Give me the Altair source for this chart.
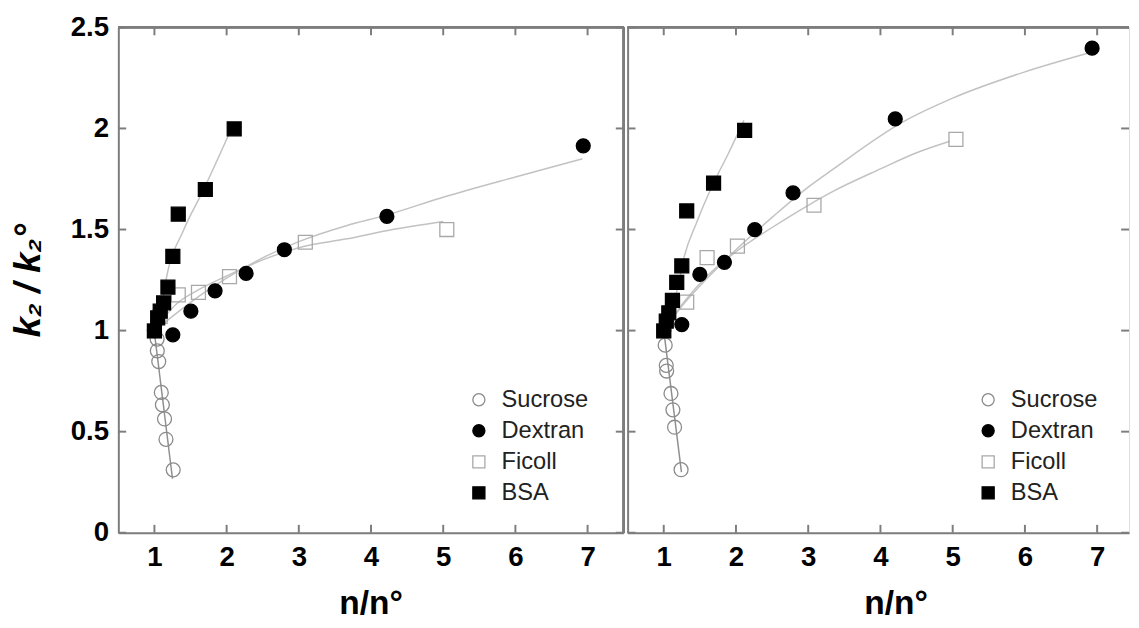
import altair as alt
import pandas as pd

SERIES = ["Sucrose", "Dextran", "Ficoll", "BSA"]
X_TICKS = [1, 2, 3, 4, 5, 6, 7]
Y_TICKS = [0, 0.5, 1, 1.5, 2, 2.5]

# ---- left panel: measured points ----
L_SUC_X = [1.0, 1.037, 1.04, 1.06, 1.095, 1.11, 1.14, 1.16, 1.26]
L_SUC_Y = [1.0, 0.958, 0.90, 0.847, 0.694, 0.633, 0.563, 0.462, 0.311]
L_DEX_X = [1.0, 1.255, 1.505, 1.84, 2.27, 2.80, 4.22, 6.94]
L_DEX_Y = [1.0, 0.979, 1.096, 1.197, 1.283, 1.40, 1.565, 1.914]
L_FIC_X = [1.0, 1.08, 1.33, 1.61, 2.04, 3.09, 5.05]
L_FIC_Y = [1.0, 1.07, 1.177, 1.189, 1.267, 1.437, 1.50]
L_BSA_X = [1.0, 1.045, 1.08, 1.127, 1.187, 1.255, 1.33, 1.705, 2.105]
L_BSA_Y = [0.998, 1.063, 1.096, 1.137, 1.215, 1.367, 1.576, 1.698, 1.998]

# ---- left panel: fitted curves ----
L_SUC_FX = [1.0, 1.25]
L_SUC_FY = [0.99, 0.267]
L_DEX_FX = [1.0, 1.25, 1.5, 2.0, 2.5, 3.0, 3.67, 4.2, 5.0, 6.0, 6.93]
L_DEX_FY = [1.0, 1.07, 1.14, 1.26, 1.36, 1.44, 1.52, 1.57, 1.66, 1.76, 1.85]
L_FIC_FX = [1.0, 1.3, 1.6, 2.0, 2.5, 3.0, 3.67, 4.3, 5.0]
L_FIC_FY = [1.0, 1.13, 1.20, 1.27, 1.35, 1.41, 1.454, 1.50, 1.54]
L_BSA_FX = [1.0, 1.1, 1.17, 1.4, 1.67, 2.08]
L_BSA_FY = [1.0, 1.12, 1.267, 1.494, 1.69, 2.01]

# ---- right panel: measured points ----
R_SUC_X = [1.0, 1.02, 1.035, 1.04, 1.10, 1.127, 1.15, 1.24]
R_SUC_Y = [1.0, 0.928, 0.828, 0.80, 0.689, 0.608, 0.522, 0.312]
R_DEX_X = [1.0, 1.25, 1.5, 1.84, 2.26, 2.79, 4.205, 6.93]
R_DEX_Y = [1.0, 1.03, 1.278, 1.338, 1.499, 1.681, 2.047, 2.397]
R_FIC_X = [1.0, 1.318, 1.60, 2.02, 3.08, 5.045]
R_FIC_Y = [1.0, 1.141, 1.361, 1.418, 1.62, 1.946]
R_BSA_X = [1.0, 1.035, 1.07, 1.12, 1.18, 1.25, 1.318, 1.69, 2.12]
R_BSA_Y = [0.998, 1.047, 1.088, 1.15, 1.239, 1.32, 1.592, 1.73, 1.99]

# ---- right panel: fitted curves ----
R_SUC_FX = [1.0, 1.245]
R_SUC_FY = [1.0, 0.30]
R_DEX_FX = [1.0, 1.25, 1.5, 2.0, 2.5, 3.0, 3.35, 4.3, 5.0, 6.0, 6.87]
R_DEX_FY = [1.0, 1.12, 1.22, 1.40, 1.56, 1.71, 1.80, 2.03, 2.15, 2.28, 2.372]
R_FIC_FX = [1.0, 1.3, 1.6, 2.0, 2.5, 3.0, 3.35, 4.0, 4.5, 4.96]
R_FIC_FY = [1.0, 1.15, 1.27, 1.39, 1.51, 1.62, 1.69, 1.80, 1.88, 1.937]
R_BSA_FX = [1.0, 1.1, 1.2, 1.28, 1.45, 1.69, 1.9, 2.11]
R_BSA_FY = [1.0, 1.1, 1.22, 1.36, 1.53, 1.73, 1.88, 2.04]

FONT = "Liberation Sans, Arial, Helvetica, sans-serif"
GRAY = "#7d7d7d"
FIT_LIGHT = "#c2c2c2"
FIT_DARK = "#8f8f8f"
H = 513
TICK = 8


def points_df(pairs):
    rows = []
    for name, (xs, ys) in zip(SERIES, pairs):
        for x, y in zip(xs, ys):
            rows.append({"series": name, "x": x, "y": y})
    return pd.DataFrame(rows)


def panel(pts, fits, width, xmax, first, title_x, legend_x):
    xscale = alt.Scale(domain=[0.5, xmax], nice=False, zero=False)
    yscale = alt.Scale(domain=[0, 2.5], nice=False, zero=False)
    xaxis = alt.Axis(values=X_TICKS, format="d", labelFont=FONT, labelFontSize=28,
                     labelFontWeight="bold", labelColor="black", labelPadding=11,
                     ticks=False, grid=False, domainColor=GRAY, domainWidth=2,
                     titleFont=FONT, titleFontSize=34, titleFontWeight="bold",
                     titleColor="black", titlePadding=16, titleX=title_x)
    if first:
        yaxis = alt.Axis(values=Y_TICKS, format="~g", labelFont=FONT, labelFontSize=28,
                         labelFontWeight="bold", labelColor="black", labelPadding=10,
                         ticks=False, grid=False, domainColor=GRAY, domainWidth=2,
                         titleFont=FONT, titleFontSize=37, titleFontWeight="bold",
                         titleFontStyle="italic", titleColor="black", titlePadding=24,
                         minExtent=48, maxExtent=48)
        ytitle = "k\u2082 / k\u2082\u00b0"
    else:
        yaxis = alt.Axis(values=Y_TICKS, labels=False, ticks=False, grid=False,
                         domainColor=GRAY, domainWidth=2, minExtent=0, maxExtent=0)
        ytitle = None
    X = alt.X("x:Q", scale=xscale, axis=xaxis, title="n/n\u00b0")
    Y = alt.Y("y:Q", scale=yscale, axis=yaxis, title=ytitle)

    layers = []
    fit_colors = [FIT_DARK, FIT_LIGHT, FIT_LIGHT, FIT_LIGHT]
    for (fx, fy), col in zip(fits, fit_colors):
        fdf = pd.DataFrame({"x": fx, "y": fy})
        layers.append(alt.Chart(fdf).mark_line(color=col, strokeWidth=1.5,
                                               interpolate="monotone").encode(x=X, y=Y))

    legend = alt.Legend(orient="none", legendX=legend_x, legendY=366, title=None,
                        labelFont=FONT, labelFontSize=24, labelColor="#222",
                        symbolSize=150, rowPadding=7.5, labelOffset=11, padding=0,
                        symbolStrokeWidth=1.3)
    layers.append(alt.Chart(pts).mark_point(opacity=1, strokeWidth=1.3, size=200).encode(
        x=X, y=Y,
        shape=alt.Shape("series:N", scale=alt.Scale(domain=SERIES,
                        range=["circle", "circle", "square", "square"]), legend=legend),
        fill=alt.Fill("series:N", scale=alt.Scale(domain=SERIES,
                      range=["transparent", "black", "transparent", "black"]), legend=legend),
        stroke=alt.Stroke("series:N", scale=alt.Scale(domain=SERIES,
                          range=["#8a8a8a", "black", "#a8a8a8", "black"]), legend=legend),
    ))

    xt = pd.DataFrame({"x": X_TICKS})
    yt = pd.DataFrame({"y": Y_TICKS})
    rule = dict(color=GRAY, strokeWidth=2)
    layers.append(alt.Chart(xt).mark_rule(**rule).encode(x=X, y=alt.value(H), y2=alt.value(H - TICK)))
    layers.append(alt.Chart(xt).mark_rule(**rule).encode(x=X, y=alt.value(0), y2=alt.value(TICK)))
    layers.append(alt.Chart(yt).mark_rule(**rule).encode(y=Y, x=alt.value(0), x2=alt.value(TICK)))
    layers.append(alt.Chart(yt).mark_rule(**rule).encode(y=Y, x=alt.value(width), x2=alt.value(width - TICK)))
    # top border
    layers.append(alt.Chart(xt).mark_rule(**rule).encode(x=alt.value(0), x2=alt.value(width), y=alt.value(0)))
    if first:
        layers.append(alt.Chart(xt).mark_rule(**rule).encode(x=alt.value(width), y=alt.value(0), y2=alt.value(H)))
    return alt.layer(*layers).properties(width=width, height=H)


left_pts = points_df([(L_SUC_X, L_SUC_Y), (L_DEX_X, L_DEX_Y), (L_FIC_X, L_FIC_Y), (L_BSA_X, L_BSA_Y)])
right_pts = points_df([(R_SUC_X, R_SUC_Y), (R_DEX_X, R_DEX_Y), (R_FIC_X, R_FIC_Y), (R_BSA_X, R_BSA_Y)])
left_fits = [(L_SUC_FX, L_SUC_FY), (L_DEX_FX, L_DEX_FY), (L_FIC_FX, L_FIC_FY), (L_BSA_FX, L_BSA_FY)]
right_fits = [(R_SUC_FX, R_SUC_FY), (R_DEX_FX, R_DEX_FY), (R_FIC_FX, R_FIC_FY), (R_BSA_FX, R_BSA_FY)]

left = panel(left_pts, left_fits, 513, 7.5, True, 256, 354)
right = panel(right_pts, right_fits, 509, 0.5 + 509 / 73.33, False, 272, 354)

chart = alt.hconcat(left, right, spacing=0).resolve_scale(
    shape="independent", fill="independent", stroke="independent"
).resolve_legend(
    shape="independent", fill="independent", stroke="independent"
).properties(
    padding={"left": 1, "top": 0, "right": 0, "bottom": 0}
).configure_view(stroke=None).configure(background="white")

chart.save("out.html", embed_options={"renderer": "svg", "actions": False})
